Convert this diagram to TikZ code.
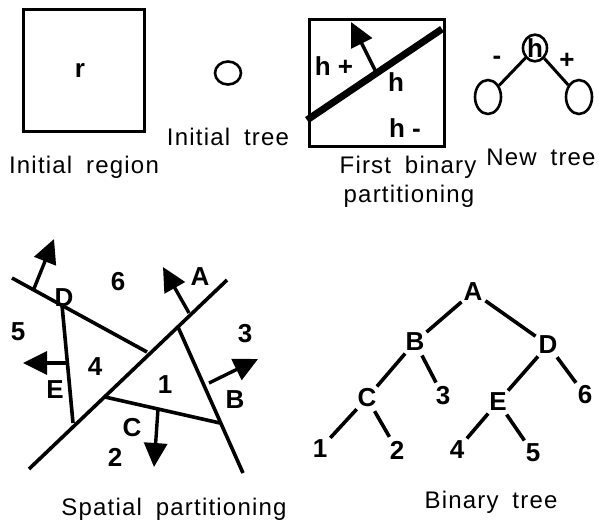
\documentclass[tikz,border=0pt]{standalone}
\usepackage{fontspec}
\setmainfont{Liberation Sans}
\newfontfamily\capfont[LetterSpace=5]{Liberation Sans}
\usetikzlibrary{arrows.meta,shapes.geometric}
\tikzset{
  captxt/.style={font=\capfont\fontsize{24}{28}\selectfont, inner sep=0pt, anchor=base},
  lab/.style={font=\fontsize{26}{28}\selectfont\bfseries, inner sep=0pt},
  thin line/.style={line width=3pt},
  part line/.style={line width=3.6pt},
  vec/.style={line width=3.4pt, -{Triangle[length=24pt,width=23pt]}},
  tnode/.style={circle, minimum size=30pt, inner sep=0pt, font=\fontsize{26}{28}\selectfont\bfseries},
  tedge/.style={line width=3.6pt},
  oval/.style={ellipse, draw, line width=2.6pt, inner sep=0pt},
}
\begin{document}
\begin{tikzpicture}[x=1pt,y=-1pt]
\useasboundingbox (0,0) rectangle (599,523);
% --- Initial region
\draw[thin line] (23,9) rectangle (144,131);
\node[lab] (r) at (80,70) {r};
\node[captxt] (capreg) at (84,173) {Initial\hspace{6pt} region};
% --- Initial tree
\node[oval, minimum width=26pt, minimum height=23pt] (t0) at (228,73) {};
\node[captxt] (captree) at (228,145) {Initial\hspace{6pt} tree};
% --- First binary partitioning
\draw[thin line] (309,19) rectangle (444,146);
\coordinate (h1) at (307,120);
\coordinate (h2) at (442,29);
\draw[line width=7pt] (h1) -- (h2);
\coordinate (hb) at (377,74);
\coordinate (ht) at (351,22);
\draw[vec] (hb) -- (ht);
\node[lab] (hp) at (334,66) {h +};
\node[lab] (hh) at (396,82) {h};
\node[lab] (hm) at (405,128) {h -};
\node[captxt] (capfb1) at (408,173) {First\hspace{6pt} binary};
\node[captxt] (capfb2) at (409,202) {partitioning};
% --- New tree
\node[oval, minimum width=24pt, minimum height=18pt, font=\fontsize{26}{28}\selectfont\bfseries] (nr) at (535,48) {h};
\node[oval, minimum width=26pt, minimum height=34pt] (nl) at (488,97) {};
\node[oval, minimum width=26pt, minimum height=34pt] (nrr) at (579,97) {};
\draw[line width=3pt] (nr) -- (nl);
\draw[line width=3pt] (nr) -- (nrr);
\node[lab] (minus) at (497,60) {-};
\node[lab] (plus) at (567,61) {+};
\node[captxt] (capnew) at (541,165) {New\hspace{6pt} tree};
% --- Spatial partitioning
\coordinate (a1) at (29,469);
\coordinate (a2) at (227,280);
\coordinate (d1) at (12,278);
\coordinate (d2) at (147,352);
\coordinate (e1) at (62,305);
\coordinate (e2) at (73,423);
\coordinate (b1) at (178,327);
\coordinate (b2) at (243,473);
\coordinate (c1) at (105,397);
\coordinate (c2) at (220,423);
\draw[part line] (a1) -- (a2);
\draw[part line] (d1) -- (d2);
\draw[part line] (e1) -- (e2);
\draw[part line] (b1) -- (b2);
\draw[part line] (c1) -- (c2);
% normal vectors
\coordinate (dv0) at (33,291);
\coordinate (dv1) at (54,239);
\draw[vec] (dv0) -- (dv1);
\coordinate (av0) at (189,313);
\coordinate (av1) at (163,267);
\draw[vec] (av0) -- (av1);
\coordinate (ev0) at (66,363);
\coordinate (ev1) at (23,363);
\draw[vec] (ev0) -- (ev1);
\coordinate (bv0) at (209,383);
\coordinate (bv1) at (258,359);
\draw[vec] (bv0) -- (bv1);
\coordinate (cv0) at (158,409);
\coordinate (cv1) at (154,467);
\draw[vec] (cv0) -- (cv1);
\node[lab] (sD) at (64,298) {D};
\node[lab] (s6) at (118,282) {6};
\node[lab] (sA) at (200,277) {A};
\node[lab] (s5) at (18,332) {5};
\node[lab] (s3) at (245,334) {3};
\node[lab] (s4) at (95,367) {4};
\node[lab] (s1) at (165,385) {1};
\node[lab] (sE) at (55,390) {E};
\node[lab] (sB) at (235,400) {B};
\node[lab] (sC) at (132,428) {C};
\node[lab] (s2) at (115,457) {2};
\node[captxt] (capsp) at (174,515) {Spatial\hspace{6pt} partitioning};
% --- Binary tree
\node[tnode] (A) at (473,292) {A};
\node[tnode] (B) at (415,342) {B};
\node[tnode] (D) at (548,345) {D};
\node[tnode] (C) at (367,398) {C};
\node[tnode] (n3) at (443,396) {3};
\node[tnode] (E) at (498,402) {E};
\node[tnode] (n6) at (585,395) {6};
\node[tnode] (n1) at (320,449) {1};
\node[tnode] (n2) at (397,450) {2};
\node[tnode] (n4) at (457,450) {4};
\node[tnode] (n5) at (533,453) {5};
\draw[tedge] (A) -- (B);
\draw[tedge] (A) -- (D);
\draw[tedge] (B) -- (C);
\draw[tedge] (B) -- (n3);
\draw[tedge] (D) -- (E);
\draw[tedge] (D) -- (n6);
\draw[tedge] (C) -- (n1);
\draw[tedge] (C) -- (n2);
\draw[tedge] (E) -- (n4);
\draw[tedge] (E) -- (n5);
\node[captxt] (capbin) at (491,508) {Binary\hspace{6pt} tree};
\end{tikzpicture}
\end{document}
